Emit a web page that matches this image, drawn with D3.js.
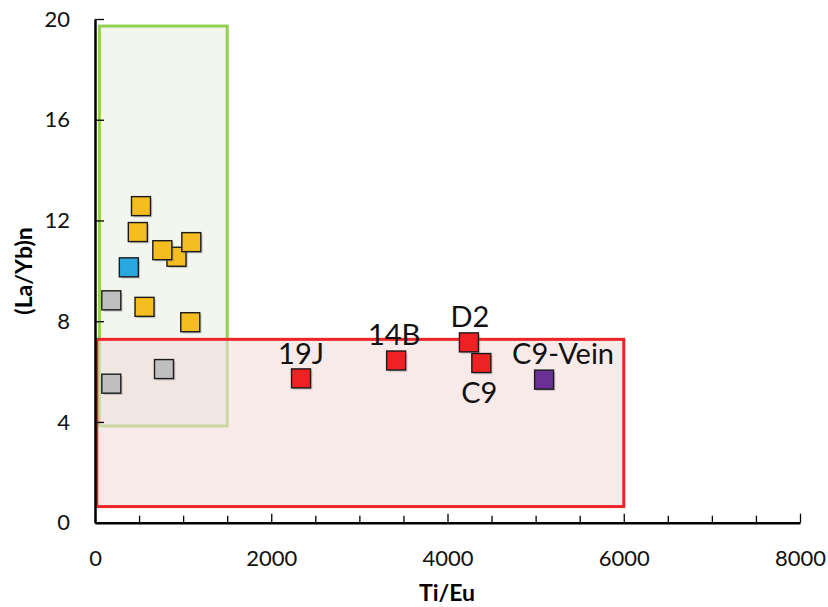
<!DOCTYPE html>
<html>
<head>
<meta charset="utf-8">
<script src="https://cdn.jsdelivr.net/npm/d3@7"></script>
<style>
  html, body { margin: 0; padding: 0; background: #fff; }
  svg { display: block; font-family: Lato, "Open Sans", sans-serif; }
</style>
</head>
<body>
<svg id="chart" width="828" height="607"></svg>
<script>
// ---- data ----
const xTickLabels = [0, 2000, 4000, 6000, 8000];
const xMinorTicks = [500, 1000, 1500, 2500, 3000, 3500, 4500, 5000, 5500, 6500, 7000, 7500];
const yTickLabels = [0, 4, 8, 12, 16, 20];

const grayX = [185, 185, 783];
const grayY = [8.83, 5.52, 6.10];
const yellowX = [925, 522, 486, 764, 1093, 562, 1081];
const yellowY = [10.56, 12.57, 11.54, 10.82, 11.14, 8.57, 7.96];
const blueX = [384];
const blueY = [10.14];
const redNames = ["19J", "14B", "D2", "C9"];
const redX = [2338, 3417, 4243, 4384];
const redY = [5.73, 6.44, 7.16, 6.34];
const purpleNames = ["C9-Vein"];
const purpleX = [5096];
const purpleY = [5.68];

// field boxes: [x0, x1, y0, y1]
const greenBox = [50, 1500, 3.84, 19.72];
const redBox = [20, 6000, 0.64, 7.28];

// ---- layout ----
const svg = d3.select("#chart");
const x = d3.scaleLinear().domain([0, 8000]).range([95, 800]);
const y = d3.scaleLinear().domain([0, 20]).range([522.7, 19]);

// green field
svg.append("rect")
  .attr("x", x(greenBox[0])).attr("y", y(greenBox[3]))
  .attr("width", x(greenBox[1]) - x(greenBox[0]))
  .attr("height", y(greenBox[2]) - y(greenBox[3]))
  .attr("fill", "#F3F6EE").attr("stroke", "#92D050").attr("stroke-width", 3);

// red field (translucent fill over green)
svg.append("rect")
  .attr("x", x(redBox[0])).attr("y", y(redBox[3]))
  .attr("width", x(redBox[1]) - x(redBox[0]))
  .attr("height", y(redBox[2]) - y(redBox[3]))
  .attr("fill", "#F2DCDB").attr("fill-opacity", 0.6)
  .attr("stroke", "none");
svg.append("rect")
  .attr("x", x(redBox[0])).attr("y", y(redBox[3]))
  .attr("width", x(redBox[1]) - x(redBox[0]))
  .attr("height", y(redBox[2]) - y(redBox[3]))
  .attr("fill", "none").attr("stroke", "#EE2428").attr("stroke-width", 3);

// axes
const fontTick = 22;
const yAxis = d3.axisLeft(y).tickValues(yTickLabels).tickFormat(d3.format("d"))
  .tickSizeInner(-9).tickSizeOuter(0).tickPadding(25);
const gy = svg.append("g").attr("transform", `translate(${x(0)},0)`).call(yAxis);
gy.select(".domain").attr("stroke", "#000").attr("stroke-width", 2.5);
gy.selectAll(".tick line").attr("stroke", "#000").attr("stroke-width", 1.3);
gy.selectAll(".tick text").attr("font-size", fontTick).attr("font-family", "Lato").attr("fill", "#111");

const xMinor = d3.axisBottom(x).tickValues(xMinorTicks).tickSizeInner(-7).tickSizeOuter(0).tickFormat("");
const gxm = svg.append("g").attr("transform", `translate(0,${y(0)})`).call(xMinor);
gxm.select(".domain").remove();
gxm.selectAll(".tick line").attr("stroke", "#000").attr("stroke-width", 1.3);

const xAxis = d3.axisBottom(x).tickValues(xTickLabels).tickFormat(d3.format("d"))
  .tickSizeInner(-9).tickSizeOuter(0).tickPadding(27.5);
const gx = svg.append("g").attr("transform", `translate(0,${y(0)})`).call(xAxis);
gx.select(".domain").attr("stroke", "#000").attr("stroke-width", 2.5);
gx.selectAll(".tick line").attr("stroke", "#000").attr("stroke-width", 1.3);
gx.selectAll(".tick text").attr("font-size", fontTick).attr("font-family", "Lato").attr("fill", "#111");

// axis titles
svg.append("text").attr("x", 447).attr("y", 601).attr("text-anchor", "middle")
  .attr("font-size", 23).attr("font-weight", "bold").attr("font-family", "Lato").text("Ti/Eu");
svg.append("text").attr("transform", "translate(32,271) rotate(-90)").attr("text-anchor", "middle")
  .attr("font-size", 23).attr("font-weight", "bold").attr("font-family", "Lato").text("(La/Yb)n");

// markers
const S = 19;
function drawGroup(xs, ys, color) {
  const g = svg.append("g");
  xs.forEach((xv, i) => {
    const cx = x(xv), cy = y(ys[i]);
    g.append("rect").attr("x", cx - S / 2 + 1.8).attr("y", cy - S / 2 + 1.8)
      .attr("width", S).attr("height", S).attr("fill", "#777").attr("fill-opacity", 0.35);
    g.append("rect").attr("x", cx - S / 2).attr("y", cy - S / 2)
      .attr("width", S).attr("height", S)
      .attr("fill", color).attr("stroke", "#1a1a1a").attr("stroke-width", 1.4);
  });
}
drawGroup(grayX, grayY, "#BFBFBF");
drawGroup(yellowX, yellowY, "#F5BD1F");
drawGroup(blueX, blueY, "#29A8E0");
drawGroup(redX, redY, "#EE2222");
drawGroup(purpleX, purpleY, "#6B3096");

// labels (offsets from point centre, pixels)
const redLabelDx = [0, -2, 1, -2];
const redLabelDy = [-14, -16, -15, 40];
const purpleLabelDx = [19];
const purpleLabelDy = [-16];
function drawLabels(names, xs, ys, dxs, dys) {
  names.forEach((n, i) => {
    svg.append("text").attr("x", x(xs[i]) + dxs[i]).attr("y", y(ys[i]) + dys[i])
      .attr("text-anchor", "middle").attr("font-size", 29).attr("font-family", "Lato")
      .attr("fill", "#111").text(n);
  });
}
drawLabels(redNames, redX, redY, redLabelDx, redLabelDy);
drawLabels(purpleNames, purpleX, purpleY, purpleLabelDx, purpleLabelDy);
</script>
</body>
</html>
